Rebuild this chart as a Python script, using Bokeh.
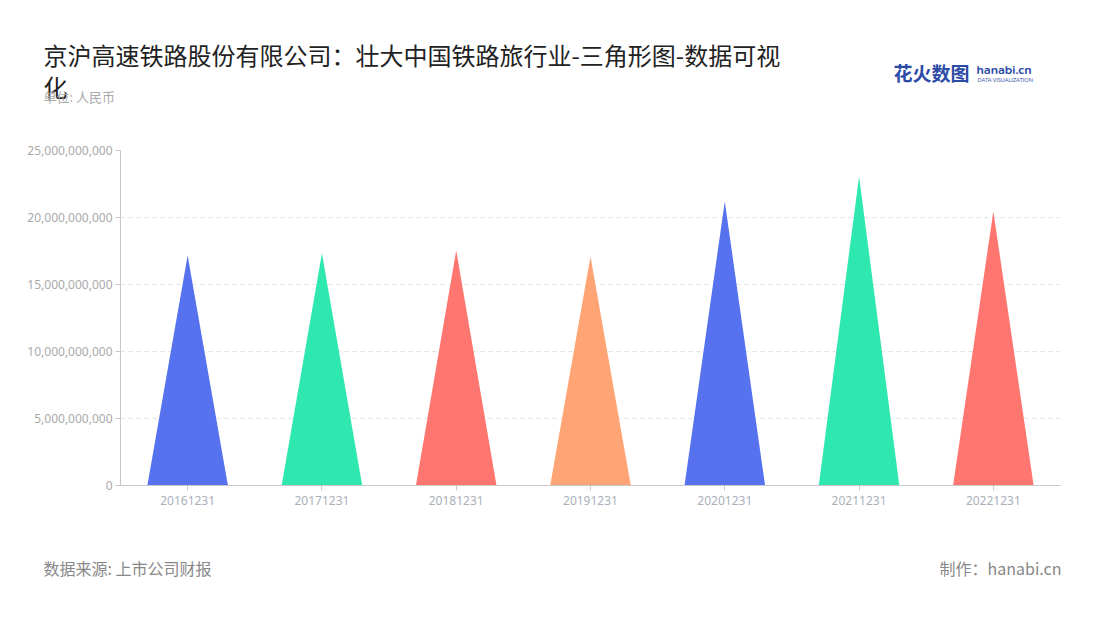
from bokeh.plotting import figure
from bokeh.models import Range1d, FixedTicker, NumeralTickFormatter, Label, ColumnDataSource
from bokeh.layouts import column
from bokeh.embed import file_html
from bokeh.resources import INLINE

categories = ["20161231", "20171231", "20181231", "20191231", "20201231", "20211231", "20221231"]
values = [17.16e9, 17.33e9, 17.54e9, 17.09e9, 21.2e9, 23.06e9, 20.45e9]
colors = ["#5672EE", "#2EE8B0", "#FF7670", "#FFA474", "#5672EE", "#2EE8B0", "#FF7670"]
y_ticks = [0, 5e9, 10e9, 15e9, 20e9, 25e9]

W = 1084
HEAD_H, MAIN_H, FOOT_H = 140, 400, 64
FL, FR = 120, 1060
FRAME_TOP, FRAME_BOT = 150, 485  # page pixels

font = "Noto Sans CJK SC"


def blank(h, top):
    f = figure(width=W, height=h, output_backend="svg", toolbar_location=None,
               x_range=Range1d(0, W), y_range=Range1d(top + h, top),
               x_axis_location=None, y_axis_location=None,
               min_border=0, min_border_left=0, min_border_right=0,
               min_border_top=0, min_border_bottom=0, frame_align=False)
    f.outline_line_color = None
    f.xgrid.grid_line_color = None
    f.ygrid.grid_line_color = None
    return f


def lab(f, text, px, py, size, color, align="left", style="normal", fnt=font):
    f.add_layout(Label(x=px, y=py, text=text, text_font=fnt, text_font_size=size,
                       text_color=color, text_align=align, text_baseline="middle",
                       text_font_style=style))


# header
head = blank(HEAD_H, 0)
lab(head, "京沪高速铁路股份有限公司：壮大中国铁路旅行业-三角形图-数据可视", 43, 54, "24px", "#222222")
lab(head, "化", 43, 86, "24px", "#222222")
lab(head, "单位: 人民币", 43, 96, "13px", "#aaaaaa")
lab(head, "花火数图", 893, 72, "19px", "#2B4BA6", style="bold")
lab(head, "hanabi.cn", 976, 69, "12.5px", "#2B4BA6", style="bold", fnt="Nunito, Lato")
lab(head, "DATA VISUALIZATION", 977, 79, "5.5px", "#3C5AA8", fnt="Lato")

# main chart
p = figure(width=W, height=MAIN_H, output_backend="svg", toolbar_location=None,
           x_range=Range1d(-0.5, len(categories) - 0.5), y_range=Range1d(0, 25e9),
           min_border_left=FL, min_border_right=W - FR,
           min_border_top=FRAME_TOP - HEAD_H, min_border_bottom=HEAD_H + MAIN_H - FRAME_BOT,
           frame_align=False)
p.outline_line_color = None

half = 0.3
xs, ys = [], []
for i, v in enumerate(values):
    xs.append([i - half, i, i + half])
    ys.append([0, v, 0])
src = ColumnDataSource(dict(xs=xs, ys=ys, color=colors))
p.patches("xs", "ys", source=src, fill_color="color", line_color=None)

p.xaxis.ticker = FixedTicker(ticks=list(range(len(categories))))
p.xaxis.major_label_overrides = {i: c for i, c in enumerate(categories)}
p.yaxis.ticker = FixedTicker(ticks=y_ticks)
p.yaxis.formatter = NumeralTickFormatter(format="0,0")

for ax in (p.xaxis, p.yaxis):
    ax.axis_line_color = "#c8c8c8"
    ax.axis_line_width = 1
    ax.major_tick_line_color = "#c8c8c8"
    ax.minor_tick_line_color = None
    ax.major_tick_in = 0
    ax.major_tick_out = 5
    ax.major_label_text_font = "Noto Sans"
    ax.major_label_text_font_size = "12px"
p.yaxis.major_label_text_color = "#aaaaaa"
p.xaxis.major_label_text_color = "#aab0bb"
p.yaxis.major_label_standoff = 3
p.xaxis.major_label_standoff = 5

p.xgrid.grid_line_color = None
p.ygrid.grid_line_color = "#e3e3e3"
p.ygrid.grid_line_dash = "4 4"
p.ygrid.grid_line_width = 1

# footer
foot = blank(FOOT_H, HEAD_H + MAIN_H)
lab(foot, "数据来源: 上市公司财报", 43, 567, "16px", "#888888")
lab(foot, "制作：hanabi.cn", 1061, 567, "16px", "#888888", align="right")

layout = column(head, p, foot, spacing=0)
open("out.html", "w").write(file_html(layout, INLINE))
